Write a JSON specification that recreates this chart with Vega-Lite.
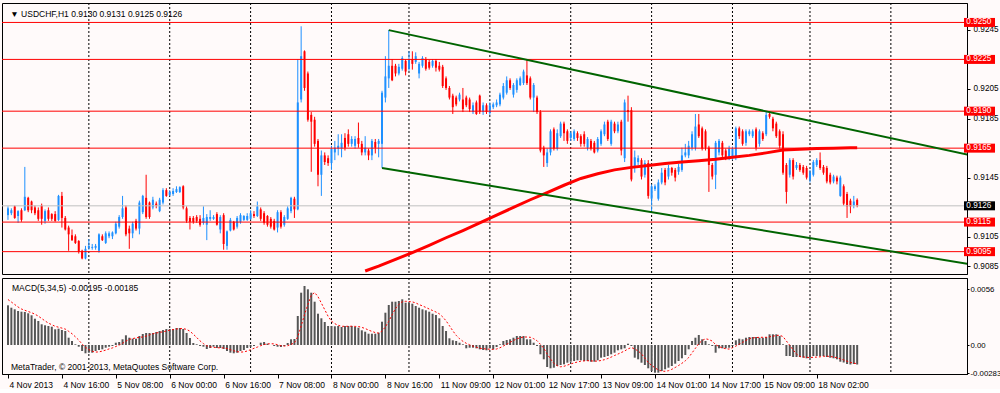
{
"$schema": "https://vega.github.io/schema/vega-lite/v6.json",
"background": "#FFFAFA",
"padding": {"left": 1, "top": 2, "right": 0, "bottom": 0},
"bounds": "flush",
"spacing": 4,
"config": {
 "view": {"stroke": "#000000", "strokeWidth": 1, "fill": "#FFFAFA"},
 "axis": {"labelFont": "Liberation Sans", "labelFontSize": 8.5, "labelColor": "#000000", "domainColor": "#000000", "tickColor": "#000000", "grid": false, "title": null},
 "text": {"font": "Liberation Sans", "fontSize": 8.5}
},
"datasets": {
 "grid": [{"i":24},{"i":48},{"i":72},{"i":96},{"i":119},{"i":143},{"i":167},{"i":191},{"i":215},{"i":238},{"i":262}],
 "levels": [{"p":0.925,"k":"r","lab":"0.9250"},{"p":0.9225,"k":"r","lab":"0.9225"},{"p":0.919,"k":"r","lab":"0.9190"},{"p":0.9165,"k":"r","lab":"0.9165"},{"p":0.9115,"k":"r","lab":"0.9115"},{"p":0.9095,"k":"r","lab":"0.9095"},{"p":0.9126,"k":"b","lab":"0.9126"}],
 "trend": [{"n":"u","i":113,"p":0.92448},{"n":"u","i":300,"p":0.91531},{"n":"d","i":111,"p":0.91515},{"n":"d","i":300,"p":0.90811}],
 "ma": [{"i":106,"v":0.90819},{"i":110,"v":0.90852},{"i":115,"v":0.90898},{"i":120,"v":0.90943},{"i":125,"v":0.90992},{"i":130,"v":0.91044},{"i":135,"v":0.91093},{"i":140,"v":0.91145},{"i":145,"v":0.91197},{"i":150,"v":0.91249},{"i":155,"v":0.91301},{"i":160,"v":0.9135},{"i":165,"v":0.91399},{"i":170,"v":0.91445},{"i":175,"v":0.91477},{"i":180,"v":0.91503},{"i":185,"v":0.9152},{"i":190,"v":0.91533},{"i":195,"v":0.91546},{"i":200,"v":0.91556},{"i":205,"v":0.91565},{"i":210,"v":0.91575},{"i":215,"v":0.91588},{"i":220,"v":0.91601},{"i":225,"v":0.91618},{"i":230,"v":0.91637},{"i":235,"v":0.91643},{"i":240,"v":0.91647},{"i":245,"v":0.9165},{"i":250,"v":0.91653},{"i":252,"v":0.91653}],
 "bars": [
{"i":0,"o":0.91197,"h":0.91256,"l":0.91165,"c":0.91243,"m":0.00397,"s":0.00455},
{"i":1,"o":0.9121,"h":0.91243,"l":0.91197,"c":0.9123,"m":0.00373,"s":0.0043},
{"i":2,"o":0.91256,"h":0.91262,"l":0.91172,"c":0.91178,"m":0.00357,"s":0.00405},
{"i":3,"o":0.91191,"h":0.9123,"l":0.91145,"c":0.91224,"m":0.0034,"s":0.0038},
{"i":4,"o":0.9123,"h":0.91243,"l":0.91152,"c":0.91165,"m":0.00333,"s":0.0036},
{"i":5,"o":0.9123,"h":0.91523,"l":0.91224,"c":0.91321,"m":0.0033,"s":0.00347},
{"i":6,"o":0.91314,"h":0.91321,"l":0.91217,"c":0.9123,"m":0.00317,"s":0.00335},
{"i":7,"o":0.91289,"h":0.91295,"l":0.9121,"c":0.9123,"m":0.00297,"s":0.00323},
{"i":8,"o":0.91249,"h":0.91262,"l":0.91197,"c":0.9121,"m":0.00263,"s":0.00308},
{"i":9,"o":0.9123,"h":0.91249,"l":0.91158,"c":0.91172,"m":0.0024,"s":0.00289},
{"i":10,"o":0.91262,"h":0.91275,"l":0.91132,"c":0.91172,"m":0.00207,"s":0.00265},
{"i":11,"o":0.91158,"h":0.91236,"l":0.91139,"c":0.91224,"m":0.00197,"s":0.00241},
{"i":12,"o":0.9123,"h":0.91249,"l":0.91158,"c":0.91172,"m":0.0019,"s":0.00219},
{"i":13,"o":0.91204,"h":0.9121,"l":0.91158,"c":0.91172,"m":0.00183,"s":0.00203},
{"i":14,"o":0.91204,"h":0.91224,"l":0.91152,"c":0.91158,"m":0.00157,"s":0.00187},
{"i":15,"o":0.91165,"h":0.91334,"l":0.91158,"c":0.91327,"m":0.00163,"s":0.00178},
{"i":16,"o":0.91327,"h":0.91354,"l":0.91113,"c":0.91178,"m":0.0015,"s":0.00169},
{"i":17,"o":0.91178,"h":0.91191,"l":0.91093,"c":0.911,"m":0.0014,"s":0.00159},
{"i":18,"o":0.91113,"h":0.91126,"l":0.90956,"c":0.91067,"m":0.00073,"s":0.00137},
{"i":19,"o":0.91061,"h":0.911,"l":0.91022,"c":0.91028,"m":0.0004,"s":0.00113},
{"i":20,"o":0.91054,"h":0.91067,"l":0.91002,"c":0.91009,"m":0.00007,"s":0.00082},
{"i":21,"o":0.91022,"h":0.91028,"l":0.90937,"c":0.9095,"m":-0.00017,"s":0.00049},
{"i":22,"o":0.90956,"h":0.90963,"l":0.90898,"c":0.90904,"m":-0.0006,"s":0.00009},
{"i":23,"o":0.90904,"h":0.90989,"l":0.90898,"c":0.90969,"m":-0.00083,"s":-0.00023},
{"i":24,"o":0.90976,"h":0.91035,"l":0.90963,"c":0.90989,"m":-0.00077,"s":-0.00046},
{"i":25,"o":0.90976,"h":0.91002,"l":0.90963,"c":0.90982,"m":-0.00077,"s":-0.00063},
{"i":26,"o":0.90976,"h":0.91002,"l":0.90963,"c":0.90989,"m":-0.0006,"s":-0.00071},
{"i":27,"o":0.90956,"h":0.91074,"l":0.90943,"c":0.91067,"m":-0.0005,"s":-0.00069},
{"i":28,"o":0.91054,"h":0.91067,"l":0.91022,"c":0.91028,"m":-0.00043,"s":-0.00061},
{"i":29,"o":0.91009,"h":0.91087,"l":0.91002,"c":0.91074,"m":-0.00027,"s":-0.00051},
{"i":30,"o":0.91054,"h":0.91087,"l":0.91041,"c":0.91074,"m":-0.00017,"s":-0.00039},
{"i":31,"o":0.91054,"h":0.91087,"l":0.91035,"c":0.9108,"m":-0.0001,"s":-0.00029},
{"i":32,"o":0.91074,"h":0.91152,"l":0.91067,"c":0.91139,"m":0.00023,"s":-0.00015},
{"i":33,"o":0.91119,"h":0.91197,"l":0.91106,"c":0.91184,"m":0.0003,"s":0},
{"i":34,"o":0.91184,"h":0.91327,"l":0.91172,"c":0.91243,"m":0.00057,"s":0.00017},
{"i":35,"o":0.91249,"h":0.91262,"l":0.91054,"c":0.91067,"m":0.00097,"s":0.00039},
{"i":36,"o":0.91106,"h":0.91126,"l":0.90969,"c":0.91074,"m":0.00073,"s":0.00056},
{"i":37,"o":0.91074,"h":0.91152,"l":0.91041,"c":0.91139,"m":0.00063,"s":0.00064},
{"i":38,"o":0.91158,"h":0.91172,"l":0.91093,"c":0.91106,"m":0.00063,"s":0.00071},
{"i":39,"o":0.91106,"h":0.91295,"l":0.91067,"c":0.91282,"m":0.0009,"s":0.00077},
{"i":40,"o":0.91217,"h":0.91334,"l":0.91204,"c":0.91327,"m":0.0011,"s":0.0008},
{"i":41,"o":0.91314,"h":0.9147,"l":0.91172,"c":0.91184,"m":0.0012,"s":0.00089},
{"i":42,"o":0.91282,"h":0.91289,"l":0.91172,"c":0.91184,"m":0.0012,"s":0.00101},
{"i":43,"o":0.91249,"h":0.91321,"l":0.91236,"c":0.91301,"m":0.0012,"s":0.00112},
{"i":44,"o":0.91275,"h":0.91289,"l":0.91243,"c":0.91262,"m":0.0013,"s":0.0012},
{"i":45,"o":0.91224,"h":0.91314,"l":0.91217,"c":0.91301,"m":0.0014,"s":0.00126},
{"i":46,"o":0.91282,"h":0.91379,"l":0.91269,"c":0.91366,"m":0.0015,"s":0.00132},
{"i":47,"o":0.91366,"h":0.91379,"l":0.91321,"c":0.91327,"m":0.0016,"s":0.0014},
{"i":48,"o":0.91334,"h":0.91366,"l":0.91327,"c":0.91353,"m":0.0016,"s":0.00148},
{"i":49,"o":0.9134,"h":0.91379,"l":0.91327,"c":0.9136,"m":0.0016,"s":0.00154},
{"i":50,"o":0.91353,"h":0.91392,"l":0.91347,"c":0.91373,"m":0.0017,"s":0.0016},
{"i":51,"o":0.91353,"h":0.91392,"l":0.91347,"c":0.91386,"m":0.0017,"s":0.00164},
{"i":52,"o":0.91392,"h":0.91399,"l":0.91236,"c":0.91249,"m":0.0016,"s":0.00164},
{"i":53,"o":0.91243,"h":0.91256,"l":0.91145,"c":0.91158,"m":0.0012,"s":0.00156},
{"i":54,"o":0.91178,"h":0.91191,"l":0.911,"c":0.91152,"m":0.0007,"s":0.00138},
{"i":55,"o":0.91178,"h":0.91191,"l":0.91139,"c":0.91152,"m":0.0002,"s":0.00108},
{"i":56,"o":0.91184,"h":0.91197,"l":0.91145,"c":0.91158,"m":0.00007,"s":0.00075},
{"i":57,"o":0.91172,"h":0.91197,"l":0.91119,"c":0.91132,"m":-0.0001,"s":0.00041},
{"i":58,"o":0.91145,"h":0.91256,"l":0.91132,"c":0.91178,"m":-0.00017,"s":0.00014},
{"i":59,"o":0.91132,"h":0.91204,"l":0.91028,"c":0.91184,"m":-0.0004,"s":-0.00008},
{"i":60,"o":0.91172,"h":0.9123,"l":0.91158,"c":0.91184,"m":-0.0003,"s":-0.00018},
{"i":61,"o":0.91172,"h":0.91197,"l":0.91165,"c":0.91184,"m":-0.00017,"s":-0.00023},
{"i":62,"o":0.91204,"h":0.91217,"l":0.91126,"c":0.91132,"m":-0.0003,"s":-0.00027},
{"i":63,"o":0.911,"h":0.91197,"l":0.91074,"c":0.91184,"m":-0.0003,"s":-0.00029},
{"i":64,"o":0.91197,"h":0.9121,"l":0.90963,"c":0.91002,"m":-0.0004,"s":-0.00029},
{"i":65,"o":0.90989,"h":0.91093,"l":0.90963,"c":0.91087,"m":-0.0006,"s":-0.00035},
{"i":66,"o":0.91093,"h":0.91178,"l":0.91087,"c":0.91165,"m":-0.00077,"s":-0.00047},
{"i":67,"o":0.91152,"h":0.91158,"l":0.91093,"c":0.911,"m":-0.00083,"s":-0.00058},
{"i":68,"o":0.91119,"h":0.91191,"l":0.91106,"c":0.91178,"m":-0.00077,"s":-0.00067},
{"i":69,"o":0.91152,"h":0.9121,"l":0.91139,"c":0.91197,"m":-0.0006,"s":-0.00071},
{"i":70,"o":0.91165,"h":0.91197,"l":0.91158,"c":0.91191,"m":-0.0005,"s":-0.00069},
{"i":71,"o":0.91165,"h":0.9121,"l":0.91158,"c":0.91191,"m":-0.0003,"s":-0.0006},
{"i":72,"o":0.91172,"h":0.9123,"l":0.91165,"c":0.9121,"m":-0.00017,"s":-0.00047},
{"i":73,"o":0.91204,"h":0.91224,"l":0.91178,"c":0.91191,"m":-0.0001,"s":-0.00033},
{"i":74,"o":0.91191,"h":0.91289,"l":0.91184,"c":0.91256,"m":0,"s":-0.00021},
{"i":75,"o":0.91236,"h":0.91249,"l":0.91158,"c":0.91172,"m":0.00023,"s":-0.00007},
{"i":76,"o":0.9121,"h":0.91224,"l":0.91132,"c":0.91145,"m":0.0003,"s":0.00005},
{"i":77,"o":0.91191,"h":0.91197,"l":0.91119,"c":0.91132,"m":0.00013,"s":0.00011},
{"i":78,"o":0.91172,"h":0.91184,"l":0.91106,"c":0.91119,"m":0,"s":0.00013},
{"i":79,"o":0.91158,"h":0.91172,"l":0.91093,"c":0.911,"m":-0.0001,"s":0.00011},
{"i":80,"o":0.91113,"h":0.9123,"l":0.9108,"c":0.91217,"m":-0.00017,"s":0.00003},
{"i":81,"o":0.91217,"h":0.9123,"l":0.91106,"c":0.91119,"m":-0.0002,"s":-0.00007},
{"i":82,"o":0.91132,"h":0.91197,"l":0.91119,"c":0.91184,"m":-0.0001,"s":-0.00011},
{"i":83,"o":0.91172,"h":0.91256,"l":0.91165,"c":0.91243,"m":0.0002,"s":-0.00007},
{"i":84,"o":0.91224,"h":0.91321,"l":0.9121,"c":0.91314,"m":0.00057,"s":0.00006},
{"i":85,"o":0.91308,"h":0.91321,"l":0.91178,"c":0.91236,"m":0.0006,"s":0.00021},
{"i":86,"o":0.91236,"h":0.92252,"l":0.9123,"c":0.91959,"m":0.0029,"s":0.00083},
{"i":87,"o":0.91979,"h":0.92474,"l":0.91959,"c":0.92272,"m":0.00523,"s":0.0019},
{"i":88,"o":0.92305,"h":0.92311,"l":0.92038,"c":0.92057,"m":0.0059,"s":0.00304},
{"i":89,"o":0.92155,"h":0.92168,"l":0.91829,"c":0.91842,"m":0.00557,"s":0.00404},
{"i":90,"o":0.91875,"h":0.91894,"l":0.9149,"c":0.91829,"m":0.00523,"s":0.00497},
{"i":91,"o":0.91842,"h":0.91862,"l":0.9166,"c":0.91679,"m":0.00433,"s":0.00525},
{"i":92,"o":0.91699,"h":0.91712,"l":0.91392,"c":0.9147,"m":0.00313,"s":0.00483},
{"i":93,"o":0.9147,"h":0.91634,"l":0.91327,"c":0.91601,"m":0.00267,"s":0.00419},
{"i":94,"o":0.91601,"h":0.91621,"l":0.91536,"c":0.91556,"m":0.0023,"s":0.00353},
{"i":95,"o":0.91582,"h":0.91601,"l":0.9153,"c":0.91549,"m":0.0019,"s":0.00287},
{"i":96,"o":0.91549,"h":0.91666,"l":0.91503,"c":0.91647,"m":0.0019,"s":0.00238},
{"i":97,"o":0.91621,"h":0.91699,"l":0.91569,"c":0.91653,"m":0.00187,"s":0.00213},
{"i":98,"o":0.91647,"h":0.91744,"l":0.91601,"c":0.91666,"m":0.0019,"s":0.00197},
{"i":99,"o":0.91647,"h":0.91744,"l":0.91588,"c":0.91686,"m":0.0018,"s":0.00187},
{"i":100,"o":0.91719,"h":0.91751,"l":0.91634,"c":0.91653,"m":0.0019,"s":0.00187},
{"i":101,"o":0.91744,"h":0.91777,"l":0.9166,"c":0.91679,"m":0.0019,"s":0.00187},
{"i":102,"o":0.91679,"h":0.91731,"l":0.9166,"c":0.91712,"m":0.0019,"s":0.00188},
{"i":103,"o":0.91666,"h":0.91731,"l":0.91647,"c":0.91712,"m":0.0018,"s":0.00186},
{"i":104,"o":0.91719,"h":0.91823,"l":0.91653,"c":0.91679,"m":0.00173,"s":0.00185},
{"i":105,"o":0.91679,"h":0.91699,"l":0.91601,"c":0.91621,"m":0.00147,"s":0.00176},
{"i":106,"o":0.91621,"h":0.91731,"l":0.91601,"c":0.91653,"m":0.00133,"s":0.00165},
{"i":107,"o":0.91634,"h":0.91647,"l":0.91569,"c":0.91601,"m":0.00113,"s":0.00149},
{"i":108,"o":0.91601,"h":0.91712,"l":0.91569,"c":0.91699,"m":0.00113,"s":0.00136},
{"i":109,"o":0.91692,"h":0.91712,"l":0.91614,"c":0.91653,"m":0.00113,"s":0.00124},
{"i":110,"o":0.91679,"h":0.91712,"l":0.91588,"c":0.91699,"m":0.00123,"s":0.00119},
{"i":111,"o":0.91679,"h":0.92038,"l":0.91516,"c":0.92025,"m":0.00233,"s":0.00139},
{"i":112,"o":0.91992,"h":0.92272,"l":0.91959,"c":0.92135,"m":0.00323,"s":0.00181},
{"i":113,"o":0.92122,"h":0.92448,"l":0.92057,"c":0.92207,"m":0.004,"s":0.00238},
{"i":114,"o":0.92207,"h":0.92252,"l":0.92103,"c":0.92109,"m":0.00433,"s":0.00302},
{"i":115,"o":0.92207,"h":0.9222,"l":0.92135,"c":0.92155,"m":0.00433,"s":0.00364},
{"i":116,"o":0.92155,"h":0.9222,"l":0.92142,"c":0.922,"m":0.0044,"s":0.00406},
{"i":117,"o":0.92187,"h":0.92272,"l":0.92174,"c":0.92259,"m":0.00457,"s":0.00433},
{"i":118,"o":0.9224,"h":0.92252,"l":0.92142,"c":0.92168,"m":0.00423,"s":0.00437},
{"i":119,"o":0.92187,"h":0.92305,"l":0.92174,"c":0.92252,"m":0.0042,"s":0.00435},
{"i":120,"o":0.92252,"h":0.92305,"l":0.92181,"c":0.9222,"m":0.00413,"s":0.00431},
{"i":121,"o":0.92233,"h":0.92298,"l":0.9222,"c":0.92272,"m":0.0039,"s":0.00421},
{"i":122,"o":0.92155,"h":0.92233,"l":0.92122,"c":0.9222,"m":0.00373,"s":0.00404},
{"i":123,"o":0.92207,"h":0.92272,"l":0.92194,"c":0.92259,"m":0.00357,"s":0.00391},
{"i":124,"o":0.92252,"h":0.92266,"l":0.92174,"c":0.92187,"m":0.00347,"s":0.00376},
{"i":125,"o":0.92233,"h":0.92246,"l":0.92181,"c":0.92194,"m":0.00333,"s":0.0036},
{"i":126,"o":0.92207,"h":0.92252,"l":0.92194,"c":0.9224,"m":0.00313,"s":0.00345},
{"i":127,"o":0.9224,"h":0.92252,"l":0.92168,"c":0.92194,"m":0.003,"s":0.0033},
{"i":128,"o":0.92207,"h":0.92233,"l":0.92168,"c":0.92181,"m":0.00267,"s":0.00312},
{"i":129,"o":0.922,"h":0.92213,"l":0.92057,"c":0.9207,"m":0.0019,"s":0.00281},
{"i":130,"o":0.92122,"h":0.92135,"l":0.92044,"c":0.92057,"m":0.0014,"s":0.00242},
{"i":131,"o":0.92057,"h":0.9207,"l":0.91979,"c":0.91992,"m":0.00067,"s":0.00193},
{"i":132,"o":0.92005,"h":0.92018,"l":0.91881,"c":0.91927,"m":0.00047,"s":0.00142},
{"i":133,"o":0.91992,"h":0.92005,"l":0.91933,"c":0.91946,"m":0.0004,"s":0.00097},
{"i":134,"o":0.91979,"h":0.92025,"l":0.91966,"c":0.92012,"m":0.00023,"s":0.00063},
{"i":135,"o":0.91979,"h":0.92057,"l":0.91894,"c":0.91914,"m":0.00007,"s":0.00037},
{"i":136,"o":0.91992,"h":0.92005,"l":0.91927,"c":0.9194,"m":-0.00033,"s":0.00017},
{"i":137,"o":0.91979,"h":0.91992,"l":0.91894,"c":0.91914,"m":-0.00027,"s":0.00002},
{"i":138,"o":0.91894,"h":0.91959,"l":0.91881,"c":0.9194,"m":-0.00027,"s":-0.00011},
{"i":139,"o":0.91959,"h":0.91972,"l":0.91875,"c":0.91881,"m":-0.00033,"s":-0.00023},
{"i":140,"o":0.92005,"h":0.92012,"l":0.91881,"c":0.91894,"m":-0.00043,"s":-0.00033},
{"i":141,"o":0.91894,"h":0.91959,"l":0.91875,"c":0.9194,"m":-0.0005,"s":-0.00036},
{"i":142,"o":0.9194,"h":0.91953,"l":0.91881,"c":0.91894,"m":-0.00053,"s":-0.00041},
{"i":143,"o":0.91888,"h":0.91959,"l":0.91875,"c":0.9194,"m":-0.00033,"s":-0.00042},
{"i":144,"o":0.91927,"h":0.91959,"l":0.91914,"c":0.91946,"m":-0.00043,"s":-0.00044},
{"i":145,"o":0.9194,"h":0.91979,"l":0.91927,"c":0.91959,"m":-0.0002,"s":-0.0004},
{"i":146,"o":0.91946,"h":0.92025,"l":0.91933,"c":0.92012,"m":0.00007,"s":-0.00028},
{"i":147,"o":0.91992,"h":0.9209,"l":0.91979,"c":0.9207,"m":0.0004,"s":-0.0001},
{"i":148,"o":0.92025,"h":0.92135,"l":0.92012,"c":0.92109,"m":0.0005,"s":0.00007},
{"i":149,"o":0.92109,"h":0.92122,"l":0.92044,"c":0.92057,"m":0.00057,"s":0.00027},
{"i":150,"o":0.92012,"h":0.9209,"l":0.91992,"c":0.92077,"m":0.00073,"s":0.00045},
{"i":151,"o":0.92044,"h":0.92122,"l":0.92025,"c":0.92109,"m":0.0009,"s":0.00062},
{"i":152,"o":0.92077,"h":0.92135,"l":0.9207,"c":0.92122,"m":0.0009,"s":0.00072},
{"i":153,"o":0.9209,"h":0.92181,"l":0.92077,"c":0.92168,"m":0.0009,"s":0.0008},
{"i":154,"o":0.92142,"h":0.92252,"l":0.92077,"c":0.9209,"m":0.00057,"s":0.0008},
{"i":155,"o":0.92122,"h":0.92135,"l":0.91979,"c":0.91992,"m":0.00057,"s":0.00077},
{"i":156,"o":0.91992,"h":0.9209,"l":0.91894,"c":0.92077,"m":0.00023,"s":0.00063},
{"i":157,"o":0.91992,"h":0.92005,"l":0.91881,"c":0.91894,"m":-0.0001,"s":0.00043},
{"i":158,"o":0.91894,"h":0.91907,"l":0.91621,"c":0.91634,"m":-0.00093,"s":0.00007},
{"i":159,"o":0.91653,"h":0.91666,"l":0.91523,"c":0.91601,"m":-0.00143,"s":-0.00033},
{"i":160,"o":0.91549,"h":0.91647,"l":0.91523,"c":0.91621,"m":-0.0022,"s":-0.00089},
{"i":161,"o":0.91621,"h":0.91777,"l":0.91601,"c":0.91764,"m":-0.00233,"s":-0.0014},
{"i":162,"o":0.91777,"h":0.9179,"l":0.91634,"c":0.91647,"m":-0.00227,"s":-0.00183},
{"i":163,"o":0.91647,"h":0.91777,"l":0.91634,"c":0.91751,"m":-0.0021,"s":-0.00207},
{"i":164,"o":0.91731,"h":0.91829,"l":0.91719,"c":0.91816,"m":-0.002,"s":-0.00218},
{"i":165,"o":0.91816,"h":0.91829,"l":0.91699,"c":0.91751,"m":-0.00193,"s":-0.00213},
{"i":166,"o":0.91764,"h":0.91777,"l":0.91679,"c":0.91699,"m":-0.00177,"s":-0.00201},
{"i":167,"o":0.91719,"h":0.91764,"l":0.91699,"c":0.91751,"m":-0.00167,"s":-0.00189},
{"i":168,"o":0.91712,"h":0.91777,"l":0.91699,"c":0.91764,"m":-0.0016,"s":-0.00179},
{"i":169,"o":0.91751,"h":0.91764,"l":0.91699,"c":0.91719,"m":-0.00153,"s":-0.0017},
{"i":170,"o":0.91731,"h":0.91744,"l":0.9166,"c":0.91679,"m":-0.00153,"s":-0.00162},
{"i":171,"o":0.91744,"h":0.91764,"l":0.9166,"c":0.91679,"m":-0.0016,"s":-0.00159},
{"i":172,"o":0.91653,"h":0.91725,"l":0.91634,"c":0.91712,"m":-0.0016,"s":-0.00157},
{"i":173,"o":0.91699,"h":0.91712,"l":0.91634,"c":0.91647,"m":-0.00167,"s":-0.00159},
{"i":174,"o":0.91686,"h":0.91699,"l":0.91614,"c":0.91621,"m":-0.00167,"s":-0.00161},
{"i":175,"o":0.91634,"h":0.91725,"l":0.91621,"c":0.91712,"m":-0.00153,"s":-0.00161},
{"i":176,"o":0.91679,"h":0.91777,"l":0.91666,"c":0.91764,"m":-0.00127,"s":-0.00155},
{"i":177,"o":0.91744,"h":0.91829,"l":0.91731,"c":0.9181,"m":-0.0012,"s":-0.00147},
{"i":178,"o":0.91829,"h":0.91842,"l":0.91699,"c":0.91712,"m":-0.0011,"s":-0.00135},
{"i":179,"o":0.91679,"h":0.91842,"l":0.91666,"c":0.91829,"m":-0.00093,"s":-0.00121},
{"i":180,"o":0.91816,"h":0.91829,"l":0.91751,"c":0.91764,"m":-0.00077,"s":-0.00105},
{"i":181,"o":0.91764,"h":0.91829,"l":0.91751,"c":0.9181,"m":-0.00053,"s":-0.00091},
{"i":182,"o":0.91829,"h":0.91842,"l":0.91601,"c":0.91634,"m":-0.00043,"s":-0.00075},
{"i":183,"o":0.91582,"h":0.91979,"l":0.91556,"c":0.91959,"m":-0.00033,"s":-0.0006},
{"i":184,"o":0.91907,"h":0.92005,"l":0.91829,"c":0.91894,"m":0.00013,"s":-0.00039},
{"i":185,"o":0.91907,"h":0.91927,"l":0.91425,"c":0.91438,"m":-0.0001,"s":-0.00025},
{"i":186,"o":0.91516,"h":0.91634,"l":0.91484,"c":0.91588,"m":-0.00127,"s":-0.0004},
{"i":187,"o":0.91556,"h":0.91601,"l":0.91536,"c":0.91582,"m":-0.00143,"s":-0.0006},
{"i":188,"o":0.91569,"h":0.91582,"l":0.91438,"c":0.91458,"m":-0.00177,"s":-0.00089},
{"i":189,"o":0.9147,"h":0.91569,"l":0.91451,"c":0.91549,"m":-0.002,"s":-0.00131},
{"i":190,"o":0.91549,"h":0.91569,"l":0.91308,"c":0.91327,"m":-0.00233,"s":-0.00176},
{"i":191,"o":0.91308,"h":0.91405,"l":0.91224,"c":0.91392,"m":-0.0026,"s":-0.00203},
{"i":192,"o":0.91373,"h":0.91405,"l":0.9136,"c":0.91392,"m":-0.00277,"s":-0.00229},
{"i":193,"o":0.91308,"h":0.91438,"l":0.91295,"c":0.91418,"m":-0.00277,"s":-0.00249},
{"i":194,"o":0.91418,"h":0.91516,"l":0.91405,"c":0.91484,"m":-0.0026,"s":-0.00261},
{"i":195,"o":0.91503,"h":0.91516,"l":0.91399,"c":0.91418,"m":-0.00243,"s":-0.00263},
{"i":196,"o":0.91458,"h":0.91536,"l":0.91438,"c":0.91516,"m":-0.00227,"s":-0.00257},
{"i":197,"o":0.91516,"h":0.91523,"l":0.91464,"c":0.91484,"m":-0.0021,"s":-0.00243},
{"i":198,"o":0.91503,"h":0.91516,"l":0.91425,"c":0.91451,"m":-0.00187,"s":-0.00225},
{"i":199,"o":0.9149,"h":0.91543,"l":0.9147,"c":0.91523,"m":-0.0016,"s":-0.00205},
{"i":200,"o":0.91503,"h":0.91653,"l":0.9149,"c":0.91601,"m":-0.00133,"s":-0.00183},
{"i":201,"o":0.91601,"h":0.91679,"l":0.91588,"c":0.91621,"m":-0.001,"s":-0.00158},
{"i":202,"o":0.91601,"h":0.91699,"l":0.91582,"c":0.91666,"m":-0.00043,"s":-0.00125},
{"i":203,"o":0.91653,"h":0.91764,"l":0.91634,"c":0.91744,"m":0.0004,"s":-0.00079},
{"i":204,"o":0.91653,"h":0.91881,"l":0.91634,"c":0.91796,"m":0.00073,"s":-0.00033},
{"i":205,"o":0.9181,"h":0.91881,"l":0.91719,"c":0.91731,"m":0.001,"s":0.00014},
{"i":206,"o":0.91784,"h":0.91796,"l":0.91634,"c":0.91647,"m":0.00057,"s":0.00045},
{"i":207,"o":0.91764,"h":0.91777,"l":0.91634,"c":0.91653,"m":0.0004,"s":0.00062},
{"i":208,"o":0.91653,"h":0.91666,"l":0.91354,"c":0.91536,"m":0.00007,"s":0.00055},
{"i":209,"o":0.91536,"h":0.91549,"l":0.91438,"c":0.91458,"m":-0.0001,"s":0.00039},
{"i":210,"o":0.9147,"h":0.91699,"l":0.91373,"c":0.91686,"m":-0.00077,"s":0.00003},
{"i":211,"o":0.91621,"h":0.91712,"l":0.91601,"c":0.91699,"m":-0.00033,"s":-0.00015},
{"i":212,"o":0.91686,"h":0.91699,"l":0.91588,"c":0.91601,"m":-0.00033,"s":-0.00029},
{"i":213,"o":0.91634,"h":0.91647,"l":0.91569,"c":0.91588,"m":-0.00033,"s":-0.00037},
{"i":214,"o":0.91582,"h":0.91666,"l":0.91569,"c":0.91647,"m":-0.00027,"s":-0.00041},
{"i":215,"o":0.91588,"h":0.9166,"l":0.91569,"c":0.91647,"m":-0.0001,"s":-0.00027},
{"i":216,"o":0.91588,"h":0.91796,"l":0.91569,"c":0.91784,"m":0.00047,"s":-0.00011},
{"i":217,"o":0.91784,"h":0.91796,"l":0.91712,"c":0.91731,"m":0.00063,"s":0.00008},
{"i":218,"o":0.91764,"h":0.91777,"l":0.91666,"c":0.91679,"m":0.00057,"s":0.00026},
{"i":219,"o":0.91686,"h":0.91777,"l":0.91666,"c":0.91764,"m":0.00073,"s":0.00046},
{"i":220,"o":0.91744,"h":0.91777,"l":0.91731,"c":0.91764,"m":0.0008,"s":0.00064},
{"i":221,"o":0.91731,"h":0.91777,"l":0.91719,"c":0.91764,"m":0.0008,"s":0.00071},
{"i":222,"o":0.91777,"h":0.9179,"l":0.91634,"c":0.91653,"m":0.0008,"s":0.00074},
{"i":223,"o":0.91679,"h":0.91777,"l":0.9166,"c":0.91764,"m":0.00073,"s":0.00077},
{"i":224,"o":0.91751,"h":0.91764,"l":0.91699,"c":0.91712,"m":0.00073,"s":0.00077},
{"i":225,"o":0.91744,"h":0.91894,"l":0.91731,"c":0.91875,"m":0.0008,"s":0.00077},
{"i":226,"o":0.91881,"h":0.91901,"l":0.91849,"c":0.91862,"m":0.00107,"s":0.00083},
{"i":227,"o":0.91849,"h":0.91862,"l":0.91764,"c":0.91784,"m":0.00107,"s":0.00088},
{"i":228,"o":0.91816,"h":0.91829,"l":0.91719,"c":0.91731,"m":0.00107,"s":0.00095},
{"i":229,"o":0.91764,"h":0.91777,"l":0.91647,"c":0.91666,"m":0.0009,"s":0.00098},
{"i":230,"o":0.91744,"h":0.91764,"l":0.9147,"c":0.91484,"m":0.00007,"s":0.00084},
{"i":231,"o":0.91536,"h":0.91549,"l":0.91275,"c":0.91354,"m":-0.0011,"s":0.0004},
{"i":232,"o":0.9147,"h":0.91582,"l":0.91451,"c":0.91569,"m":-0.0011,"s":-0.00003},
{"i":233,"o":0.91569,"h":0.91582,"l":0.91438,"c":0.91458,"m":-0.0012,"s":-0.00049},
{"i":234,"o":0.91516,"h":0.91556,"l":0.91503,"c":0.91536,"m":-0.0012,"s":-0.00091},
{"i":235,"o":0.91536,"h":0.91549,"l":0.9149,"c":0.91503,"m":-0.0012,"s":-0.00116},
{"i":236,"o":0.91523,"h":0.91536,"l":0.9147,"c":0.91484,"m":-0.00127,"s":-0.00119},
{"i":237,"o":0.91516,"h":0.9153,"l":0.91438,"c":0.91451,"m":-0.00133,"s":-0.00124},
{"i":238,"o":0.91438,"h":0.91503,"l":0.91418,"c":0.91484,"m":-0.00127,"s":-0.00125},
{"i":239,"o":0.9147,"h":0.91569,"l":0.91458,"c":0.91556,"m":-0.0011,"s":-0.00123},
{"i":240,"o":0.91536,"h":0.91582,"l":0.91523,"c":0.91569,"m":-0.0011,"s":-0.00121},
{"i":241,"o":0.91569,"h":0.91621,"l":0.91503,"c":0.91516,"m":-0.0011,"s":-0.00118},
{"i":242,"o":0.91523,"h":0.91536,"l":0.9147,"c":0.91484,"m":-0.0011,"s":-0.00113},
{"i":243,"o":0.91516,"h":0.9153,"l":0.91412,"c":0.91425,"m":-0.0012,"s":-0.00112},
{"i":244,"o":0.9147,"h":0.91484,"l":0.91405,"c":0.91418,"m":-0.00127,"s":-0.00115},
{"i":245,"o":0.91425,"h":0.9147,"l":0.91412,"c":0.91458,"m":-0.00133,"s":-0.0012},
{"i":246,"o":0.91451,"h":0.91464,"l":0.91405,"c":0.91425,"m":-0.00143,"s":-0.00127},
{"i":247,"o":0.91327,"h":0.91464,"l":0.91321,"c":0.91451,"m":-0.00167,"s":-0.00138},
{"i":248,"o":0.91392,"h":0.91405,"l":0.91262,"c":0.91275,"m":-0.00175,"s":-0.00149},
{"i":249,"o":0.9134,"h":0.91354,"l":0.91178,"c":0.91256,"m":-0.0019,"s":-0.00162},
{"i":250,"o":0.91295,"h":0.91308,"l":0.9121,"c":0.91256,"m":-0.00195,"s":-0.00174},
{"i":251,"o":0.91262,"h":0.91327,"l":0.91243,"c":0.91289,"m":-0.0019,"s":-0.00183},
{"i":252,"o":0.913,"h":0.9131,"l":0.9125,"c":0.9126,"m":-0.00195,"s":-0.00185}
 ]
},
"vconcat": [
 {
  "width": 965,
  "height": 271,
  "layer": [
   {"data": {"name": "grid"}, "mark": {"type": "rule", "color": "#000000", "strokeDash": [2, 2], "strokeWidth": 1},
    "encoding": {"x": {"field": "i", "type": "quantitative", "scale": {"domain": [-0.29, 283.11], "nice": false, "zero": false}, "axis": null}}},
   {"data": {"name": "bars"}, "mark": {"type": "rule", "strokeWidth": 1},
    "encoding": {
     "x": {"field": "i", "type": "quantitative", "scale": {"domain": [-0.29, 283.11], "nice": false, "zero": false}, "axis": null},
     "y": {"field": "h", "type": "quantitative", "scale": {"domain": [0.908327, 0.925977], "nice": false, "zero": false},
           "axis": {"orient": "right", "values": [0.9245, 0.9205, 0.9185, 0.9145, 0.9105, 0.9085], "format": ".4f", "tickSize": 3, "labelPadding": 3, "labelFontSize": 8.2}},
     "y2": {"field": "l"},
     "color": {"condition": {"test": "datum.c >= datum.o", "value": "#1E90FF"}, "value": "#FF0000"}}},
   {"data": {"name": "bars"}, "mark": {"type": "bar", "size": 2},
    "encoding": {
     "x": {"field": "i", "type": "quantitative", "axis": null},
     "y": {"field": "o", "type": "quantitative"},
     "y2": {"field": "c"},
     "color": {"condition": {"test": "datum.c >= datum.o", "value": "#1E90FF"}, "value": "#FF0000"}}},
   {"data": {"name": "levels"}, "transform": [{"filter": "datum.k == 'r'"}], "mark": {"type": "rule", "color": "#FF0000", "strokeWidth": 1},
    "encoding": {"y": {"field": "p", "type": "quantitative"}}},
   {"data": {"name": "levels"}, "transform": [{"filter": "datum.k == 'b'"}], "mark": {"type": "rule", "color": "#C0C0C0", "strokeWidth": 1},
    "encoding": {"y": {"field": "p", "type": "quantitative"}}},
   {"data": {"name": "ma"}, "mark": {"type": "line", "color": "#FF0000", "strokeWidth": 3, "clip": true},
    "encoding": {"x": {"field": "i", "type": "quantitative", "axis": null}, "y": {"field": "v", "type": "quantitative"}}},
   {"data": {"name": "trend"}, "mark": {"type": "line", "color": "#006400", "strokeWidth": 2, "clip": true},
    "encoding": {"x": {"field": "i", "type": "quantitative", "axis": null}, "y": {"field": "p", "type": "quantitative"}, "detail": {"field": "n"}}},
   {"data": {"name": "levels"}, "transform": [{"filter": "datum.k == 'r'"}], "mark": {"type": "bar", "orient": "horizontal", "size": 9, "color": "#FF0000", "clip": false},
    "encoding": {"x": {"datum": 283.7, "type": "quantitative", "axis": null}, "x2": {"datum": 292.9}, "y": {"field": "p", "type": "quantitative"}}},
   {"data": {"name": "levels"}, "transform": [{"filter": "datum.k == 'b'"}], "mark": {"type": "bar", "orient": "horizontal", "size": 9, "color": "#000000", "clip": false},
    "encoding": {"x": {"datum": 283.7, "type": "quantitative", "axis": null}, "x2": {"datum": 292.9}, "y": {"field": "p", "type": "quantitative"}}},
   {"data": {"name": "levels"}, "mark": {"type": "text", "align": "left", "baseline": "middle", "color": "#FFFFFF", "clip": false, "fontSize": 8.2},
    "encoding": {"x": {"datum": 284.4, "type": "quantitative", "axis": null}, "y": {"field": "p", "type": "quantitative"}, "text": {"field": "lab"}}},
   {"data": {"values": [{"t": "▼ USDCHF,H1  0.9130 0.9131 0.9125 0.9126"}]}, "mark": {"type": "text", "align": "left", "baseline": "middle", "color": "#000000"},
    "encoding": {"x": {"datum": 0.7, "type": "quantitative", "axis": null}, "y": {"datum": 0.92559, "type": "quantitative"}, "text": {"field": "t"}}}
  ]
 },
 {
  "width": 965,
  "height": 96,
  "layer": [
   {"data": {"name": "grid"}, "mark": {"type": "rule", "color": "#000000", "strokeDash": [2, 2], "strokeWidth": 1},
    "encoding": {"x": {"field": "i", "type": "quantitative", "scale": {"domain": [-0.29, 283.11], "nice": false, "zero": false},
      "axis": {"orient": "bottom", "values": [0, 16, 32, 48, 64, 80, 96, 112, 128, 144, 160, 176, 192, 208, 224, 240],
        "labelExpr": "['4 Nov 2013','4 Nov 16:00','5 Nov 08:00','6 Nov 00:00','6 Nov 16:00','7 Nov 08:00','8 Nov 00:00','8 Nov 16:00','11 Nov 09:00','12 Nov 01:00','12 Nov 17:00','13 Nov 09:00','14 Nov 01:00','14 Nov 17:00','15 Nov 09:00','18 Nov 02:00'][round(datum.value/16)]",
        "labelAlign": "left", "labelBaseline": "top", "labelOffset": 1, "labelPadding": 2, "tickSize": 4, "labelFlush": false, "labelOverlap": false}}}},
   {"data": {"name": "bars"}, "mark": {"type": "bar", "size": 2, "color": "#555555"},
    "encoding": {
     "x": {"field": "i", "type": "quantitative"},
     "y": {"field": "m", "type": "quantitative", "scale": {"domain": [-0.0029, 0.0067], "nice": false, "zero": false},
           "axis": {"orient": "right", "values": [0.0056, 0, -0.00283], "labelExpr": "datum.value == 0 ? '0.00' : (datum.value < 0 ? '-0.00283' : '0.0056')", "tickSize": 2, "labelPadding": 1, "labelFontSize": 7.8}},
     "y2": {"datum": 0}}},
   {"data": {"name": "bars"}, "mark": {"type": "line", "color": "#FF0000", "strokeWidth": 1, "strokeDash": [2, 2]},
    "encoding": {"x": {"field": "i", "type": "quantitative"}, "y": {"field": "s", "type": "quantitative"}}},
   {"data": {"values": [{"t": "MACD(5,34,5) -0.00195 -0.00185"}]}, "mark": {"type": "text", "align": "left", "baseline": "middle", "color": "#000000"},
    "encoding": {"x": {"datum": 1.2, "type": "quantitative"}, "y": {"datum": 0.0057, "type": "quantitative"}, "text": {"field": "t"}}},
   {"data": {"values": [{"t": "MetaTrader, © 2001-2013, MetaQuotes Software Corp."}]}, "mark": {"type": "text", "align": "left", "baseline": "middle", "color": "#000000"},
    "encoding": {"x": {"datum": 0.9, "type": "quantitative"}, "y": {"datum": -0.0022, "type": "quantitative"}, "text": {"field": "t"}}}
  ]
 }
]
}
